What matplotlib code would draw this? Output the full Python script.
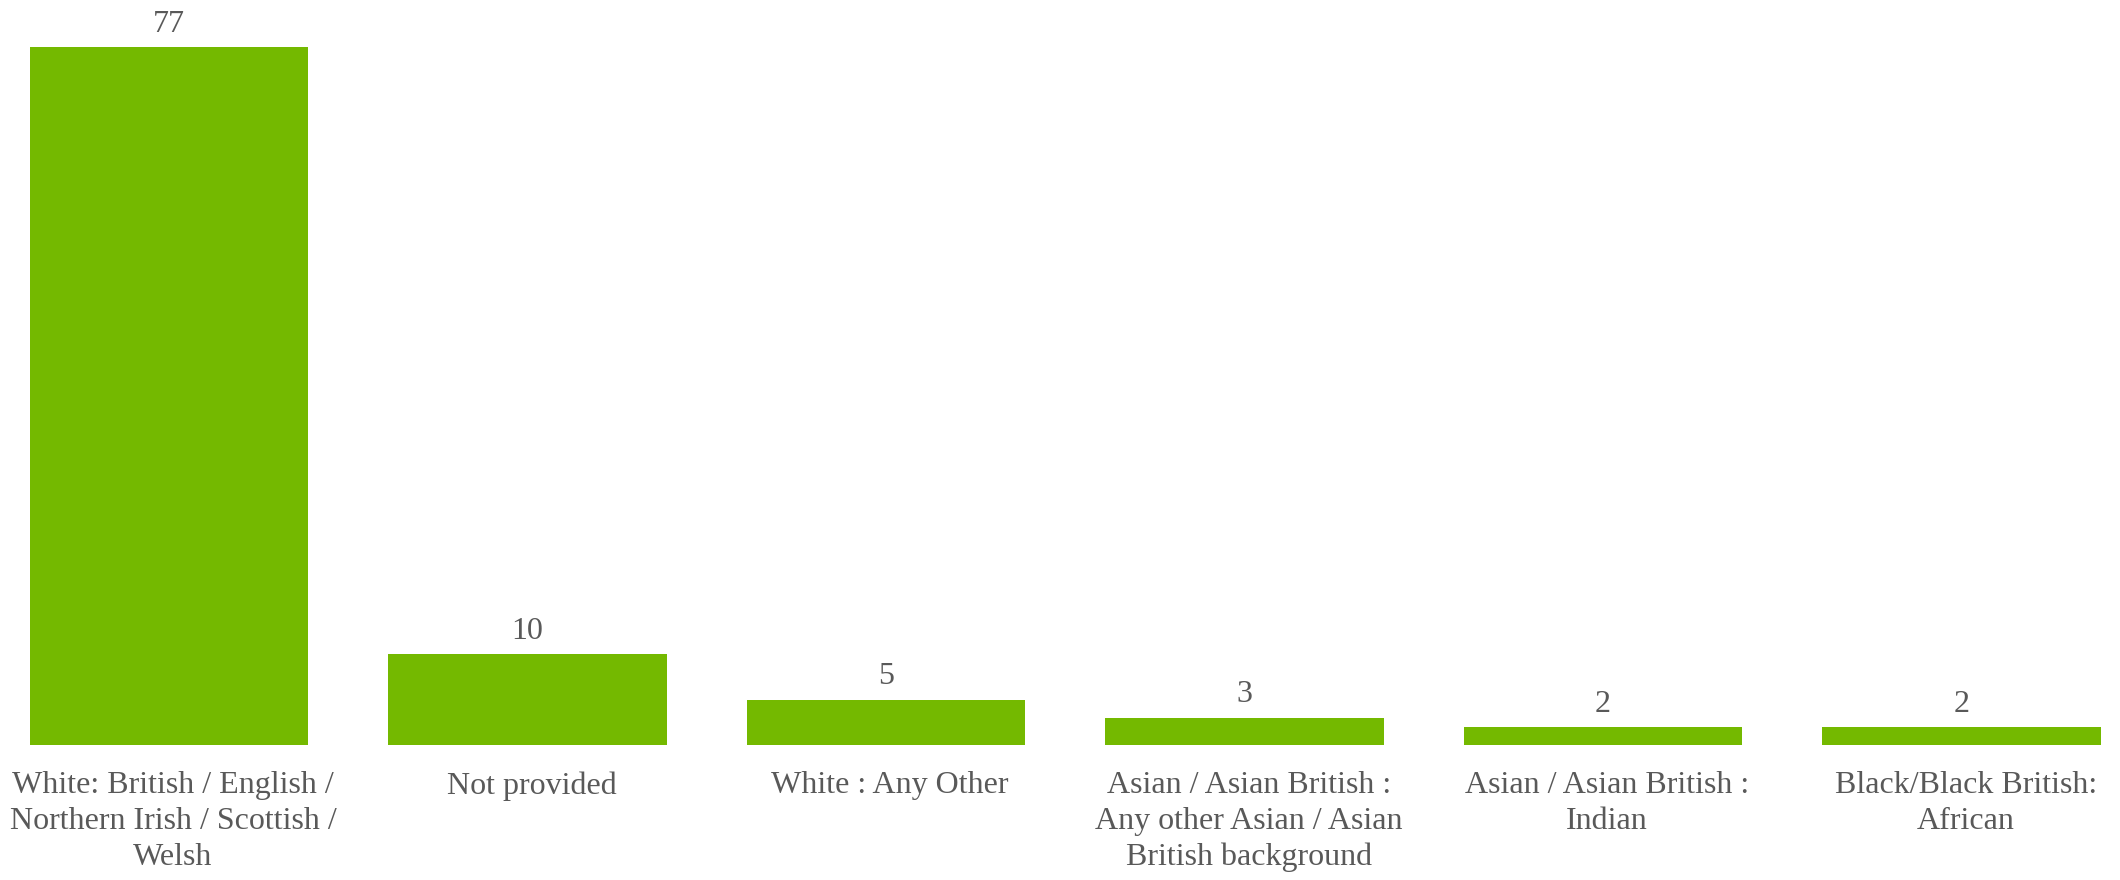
import matplotlib.pyplot as plt
import matplotlib.transforms as mtransforms

# Ethnicity counts
categories = [
    "White: British / English /\nNorthern Irish / Scottish /\nWelsh",
    "Not provided",
    "White : Any Other",
    "Asian / Asian British :\nAny other Asian / Asian\nBritish background",
    "Asian / Asian British :\nIndian",
    "Black/Black British:\nAfrican",
]
values = [77, 10, 5, 3, 2, 2]

bar_color = "#74B900"
text_color = "#595959"

plt.rcParams["font.family"] = ["Liberation Serif", "DejaVu Serif"]

fig = plt.figure(figsize=(21.2, 8.8), dpi=100)
ax = fig.add_axes([0, 0.1534, 1, 0.8466])

x = list(range(len(values)))
bars = ax.bar(x, values, width=0.777, color=bar_color)

ax.set_xlim(-0.471, 5.442)
ax.set_ylim(0, 82.2)

for b, v in zip(bars, values):
    ax.annotate(str(v), (b.get_x() + b.get_width() / 2, v),
                xytext=(0, 6), textcoords="offset points",
                ha="center", va="bottom", fontsize=23, color=text_color)

ax.set_xticks(x)
ax.set_xticklabels(categories, fontsize=23, color=text_color, linespacing=1.3)
ax.tick_params(axis="x", length=0, pad=19)
ax.set_yticks([])
for s in ax.spines.values():
    s.set_visible(False)

# labels sit a little right of bar centre in the original
shift = mtransforms.ScaledTranslation(3 / 72, 0, fig.dpi_scale_trans)
for lbl in ax.get_xticklabels():
    lbl.set_transform(lbl.get_transform() + shift)

fig.savefig("out.png", dpi=100)
